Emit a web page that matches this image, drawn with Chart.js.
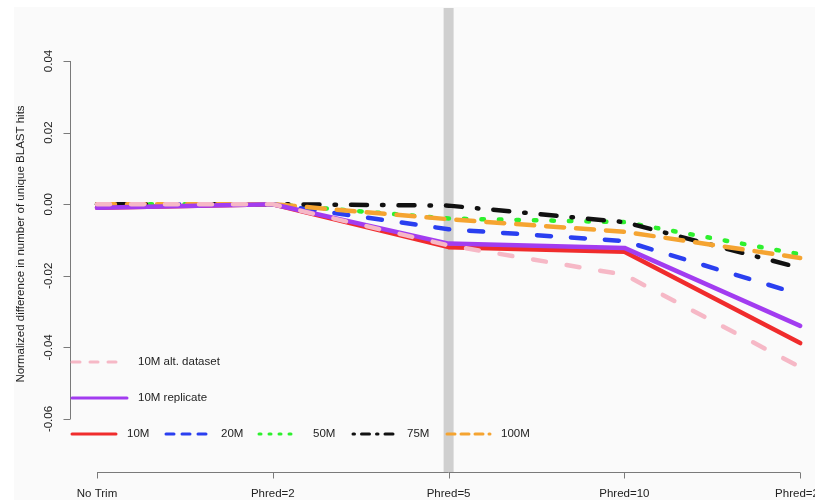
<!DOCTYPE html>
<html>
<head>
<meta charset="utf-8">
<script src="https://cdn.jsdelivr.net/npm/chart.js@4.4.1/dist/chart.umd.min.js"></script>
<style>
  html, body { margin: 0; padding: 0; background: #ffffff; }
  canvas { display: block; }
</style>
</head>
<body>
<canvas id="c" width="815" height="500"></canvas>
<script>
// ---- Data ----
const categories = ['No Trim', 'Phred=2', 'Phred=5', 'Phred=10', 'Phred=20'];
const yTicks = [0.04, 0.02, 0.00, -0.02, -0.04, -0.06];
const yAxisTitle = 'Normalized difference in number of unique BLAST hits';
const highlightCategory = 'Phred=5';

const seriesLabels = ['10M alt. dataset', '10M replicate', '100M', '75M', '50M', '20M', '10M'];
const alt10M   = [0.000, 0.000, -0.0115, -0.0197, -0.0455];
const rep10M   = [-0.001, 0.000, -0.0110, -0.0122, -0.0340];
const v100M    = [0.000, 0.000, -0.0042, -0.0077, -0.0150];
const v75M     = [0.000, 0.000, -0.0004, -0.0050, -0.0178];
const v50M     = [0.000, 0.000, -0.0040, -0.0050, -0.0140];
const v20M     = [0.000, 0.000, -0.0070, -0.0103, -0.0252];
const v10M     = [-0.001, 0.000, -0.0120, -0.0133, -0.0388];

// ---- Styles ----
const styles = {
  '10M alt. dataset': { color: '#f6b8c6', dash: [13, 21], leg: { x0: 72, x1: 118, tx: 138, y: 362, dash: [8, 10] } },
  '10M replicate':    { color: '#a23cf0', dash: [],       leg: { x0: 72, x1: 127, tx: 138, y: 398, dash: [] } },
  '100M':             { color: '#f5a431', dash: [18, 12], leg: { x0: 447, x1: 490, tx: 501, y: 434, dash: [8, 6] } },
  '75M':              { color: '#111111', dash: [1.5, 15, 16, 15], leg: { x0: 353, x1: 397, tx: 407, y: 434, dash: [1.5, 7, 8, 7] } },
  '50M':              { color: '#2ef02e', dash: [2.5, 15], leg: { x0: 259, x1: 297, tx: 313, y: 434, dash: [2, 8] } },
  '20M':              { color: '#2a3ff0', dash: [14, 20], leg: { x0: 166, x1: 211, tx: 221, y: 434, dash: [8, 8] } },
  '10M':              { color: '#f02c2c', dash: [],       leg: { x0: 72, x1: 116, tx: 127, y: 434, dash: [] } }
};

const seriesValues = [alt10M, rep10M, v100M, v75M, v50M, v20M, v10M];

const datasets = seriesLabels.map((lab, i) => ({
  label: lab,
  data: seriesValues[i].map((v, j) => ({ x: j + 1, y: v })),
  borderColor: styles[lab].color,
  backgroundColor: styles[lab].color,
  borderWidth: 4.5,
  borderDash: styles[lab].dash,
  borderCapStyle: 'round',
  borderJoinStyle: 'round',
  pointRadius: 0,
  tension: 0,
  fill: false
}));

const FONT = '11.5px "Liberation Sans", Arial, sans-serif';
const TEXT = '#222222';
const AXIS = '#7a7a7a';

const rPlugin = {
  id: 'rstyle',
  beforeDraw(chart) {
    const ctx = chart.ctx;
    ctx.save();
    ctx.fillStyle = '#ffffff';
    ctx.fillRect(0, 0, chart.width, chart.height);
    ctx.fillStyle = '#fafafa';
    ctx.fillRect(14, 7, chart.width - 14, chart.height - 7);
    ctx.restore();
  },
  beforeDatasetsDraw(chart) {
    const ctx = chart.ctx, xs = chart.scales.x, area = chart.chartArea;
    const xp = xs.getPixelForValue(categories.indexOf(highlightCategory) + 1);
    ctx.save();
    ctx.fillStyle = '#cfcfcf';
    ctx.fillRect(xp - 5, area.top, 10, area.bottom - area.top);
    ctx.restore();
  },
  afterDatasetsDraw(chart) {
    const ctx = chart.ctx, xs = chart.scales.x, ys = chart.scales.y, area = chart.chartArea;
    ctx.save();
    // Axes
    ctx.strokeStyle = AXIS;
    ctx.lineWidth = 1;
    const xAxisY = Math.round(area.bottom) + 0.5;
    const x0 = xs.getPixelForValue(1), x1 = xs.getPixelForValue(categories.length);
    ctx.beginPath();
    ctx.moveTo(x0, xAxisY); ctx.lineTo(x1, xAxisY);
    categories.forEach((c, i) => {
      const px = Math.round(xs.getPixelForValue(i + 1)) + 0.5;
      ctx.moveTo(px, xAxisY); ctx.lineTo(px, xAxisY + 6);
    });
    ctx.stroke();
    const yAxisX = Math.round(area.left) + 0.5;
    const yTop = ys.getPixelForValue(yTicks[0]), yBot = ys.getPixelForValue(yTicks[yTicks.length - 1]);
    ctx.beginPath();
    ctx.moveTo(yAxisX, yTop); ctx.lineTo(yAxisX, yBot);
    yTicks.forEach(t => {
      const py = Math.round(ys.getPixelForValue(t)) + 0.5;
      ctx.moveTo(yAxisX, py); ctx.lineTo(yAxisX - 7, py);
    });
    ctx.stroke();

    // Tick labels
    ctx.fillStyle = TEXT;
    ctx.font = FONT;
    ctx.textAlign = 'center';
    ctx.textBaseline = 'middle';
    categories.forEach((c, i) => {
      ctx.fillText(c, xs.getPixelForValue(i + 1), 494);
    });
    yTicks.forEach(t => {
      const py = ys.getPixelForValue(t);
      ctx.save();
      ctx.translate(49, py);
      ctx.rotate(-Math.PI / 2);
      ctx.fillText(t.toFixed(2), 0, 0);
      ctx.restore();
    });
    // Axis title
    ctx.save();
    ctx.translate(21, 244);
    ctx.rotate(-Math.PI / 2);
    ctx.font = '11.5px "Liberation Sans", Arial, sans-serif';
    ctx.fillText(yAxisTitle, 0, 0);
    ctx.restore();

    // Legend
    chart.data.datasets.forEach(ds => {
      const st = styles[ds.label].leg;
      ctx.save();
      ctx.strokeStyle = ds.borderColor;
      ctx.lineWidth = 3;
      ctx.lineCap = 'round';
      ctx.setLineDash(st.dash);
      ctx.beginPath();
      ctx.moveTo(st.x0, st.y); ctx.lineTo(st.x1, st.y);
      ctx.stroke();
      ctx.restore();
      ctx.fillStyle = TEXT;
      ctx.font = FONT;
      ctx.textAlign = 'left';
      ctx.textBaseline = 'middle';
      ctx.fillText(ds.label, st.tx, st.y);
    });
    ctx.restore();
  }
};

new Chart(document.getElementById('c'), {
  type: 'line',
  data: { datasets },
  options: {
    responsive: false,
    devicePixelRatio: 1,
    animation: false,
    layout: { padding: { left: 70, right: 0, top: 8, bottom: 28 } },
    plugins: { legend: { display: false }, tooltip: { enabled: false } },
    scales: {
      x: { type: 'linear', display: false, min: 1 - 27 / 175.8, max: 1 + 718 / 175.8 },
      y: { type: 'linear', display: false, min: -0.0748, max: 0.0548 }
    }
  },
  plugins: [rPlugin]
});
</script>
</body>
</html>
